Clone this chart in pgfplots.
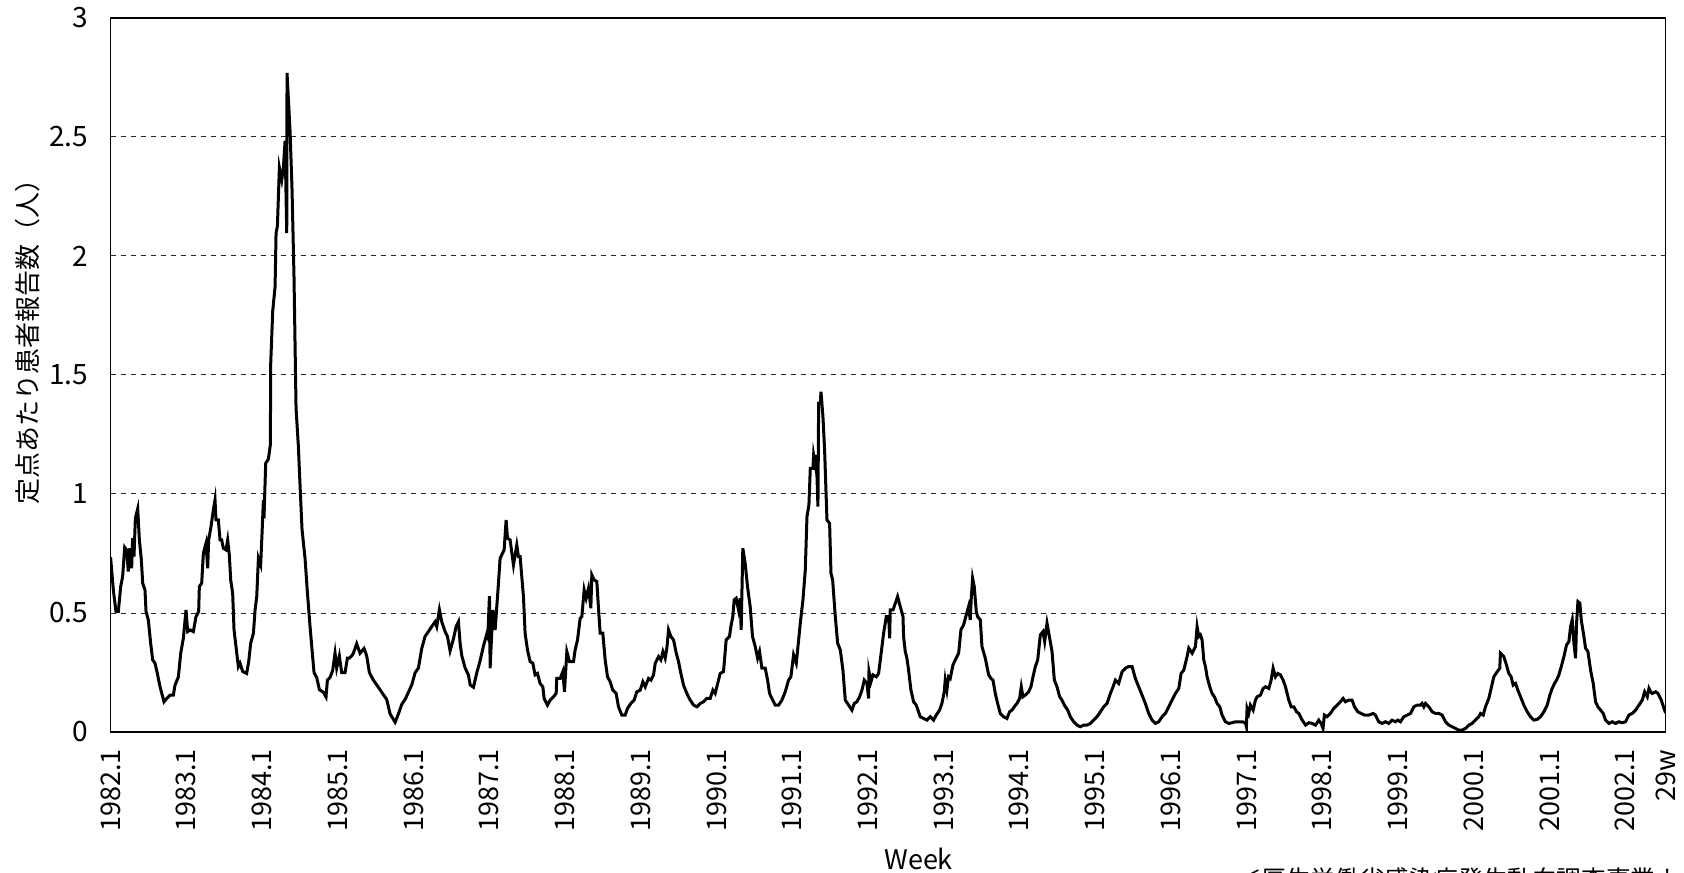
\documentclass[border=0pt]{standalone}
\usepackage{fontspec}
\setmainfont{Noto Sans CJK JP}
\usepackage{pgfplots}
\pgfplotsset{compat=1.18}

\begin{document}
\begin{tikzpicture}
\begin{axis}[
  scale only axis, width=777.5bp, height=357bp,
  xmin=1982, xmax=2002.535, ymin=0, ymax=3,
  axis line style={black, line width=0.6bp},
  major tick length=0pt,
  /pgf/number format/assume math mode=true,
  xtick={1982,1983,1984,1985,1986,1987,1988,1989,1990,1991,1992,1993,1994,1995,1996,1997,1998,1999,2000,2001,2002,2002.535},
  xticklabels={1982.1,1983.1,1984.1,1985.1,1986.1,1987.1,1988.1,1989.1,1990.1,1991.1,1992.1,1993.1,1994.1,1995.1,1996.1,1997.1,1998.1,1999.1,2000.1,2001.1,2002.1,29w},
  xticklabel style={rotate=90, anchor=east, inner xsep=8.5bp, inner ysep=0pt, font=\fontsize{13.5bp}{14bp}\selectfont},
  ytick={0,0.5,1,1.5,2,2.5,3},
  yticklabels={0,0.5,1,1.5,2,2.5,3},
  yticklabel style={anchor=east, inner xsep=0pt, xshift=-11bp, font=\fontsize{14bp}{15bp}\selectfont},
  ymajorgrids, grid style={black!85, line width=0.5bp, dash pattern=on 2.5bp off 2.5bp},
  xlabel={Week},
  xlabel style={at={(axis description cs:0.5196,-0.178)}, anchor=center, font=\fontsize{13.5bp}{14bp}\selectfont},
  ylabel={定点あたり患者報告数（人）},
  ylabel style={at={(axis description cs:-0.0531,0.555)}, anchor=center, font=\fontsize{13bp}{14bp}\selectfont},
]
\addplot[black, line width=1.5bp, line join=miter] coordinates {
(1982.000,0.734) (1982.036,0.597) (1982.071,0.506) (1982.102,0.506) (1982.133,0.611) (1982.159,0.653)
(1982.186,0.776) (1982.212,0.765) (1982.234,0.674) (1982.256,0.772) (1982.278,0.688) (1982.291,0.814)
(1982.309,0.737) (1982.327,0.898) (1982.358,0.938) (1982.380,0.807) (1982.406,0.723) (1982.424,0.625)
(1982.454,0.597) (1982.468,0.506) (1982.498,0.471) (1982.529,0.373) (1982.556,0.303) (1982.587,0.289)
(1982.617,0.246) (1982.653,0.190) (1982.705,0.127) (1982.741,0.141) (1982.785,0.155) (1982.829,0.155)
(1982.851,0.197) (1982.895,0.232) (1982.926,0.331) (1982.961,0.394) (1982.996,0.513) (1983.018,0.422)
(1983.049,0.429) (1983.093,0.422) (1983.128,0.485) (1983.163,0.506) (1983.172,0.611) (1983.203,0.625)
(1983.225,0.751) (1983.260,0.793) (1983.282,0.688) (1983.295,0.807) (1983.326,0.863) (1983.357,0.933)
(1983.379,0.975) (1983.392,0.891) (1983.423,0.891) (1983.445,0.807) (1983.467,0.807) (1983.489,0.772)
(1983.524,0.765) (1983.546,0.807) (1983.568,0.744) (1983.586,0.639) (1983.612,0.583) (1983.630,0.429)
(1983.656,0.359) (1983.687,0.275) (1983.709,0.289) (1983.745,0.254) (1983.797,0.246) (1983.824,0.296)
(1983.850,0.373) (1983.886,0.415) (1983.908,0.513) (1983.930,0.569) (1983.952,0.730) (1983.982,0.702)
(1984.000,0.835) (1984.018,0.975) (1984.026,0.898) (1984.048,1.129) (1984.084,1.147) (1984.110,1.208)
(1984.114,1.545) (1984.141,1.769) (1984.172,1.871) (1984.185,2.096) (1984.203,2.127) (1984.229,2.371)
(1984.260,2.320) (1984.282,2.371) (1984.304,2.484) (1984.326,2.096) (1984.330,2.769) (1984.370,2.524)
(1984.396,2.280) (1984.422,1.912) (1984.449,1.361) (1984.480,1.198) (1984.502,1.035) (1984.528,0.851)
(1984.568,0.729) (1984.599,0.586) (1984.634,0.443) (1984.656,0.361) (1984.687,0.249) (1984.722,0.229)
(1984.757,0.178) (1984.810,0.167) (1984.845,0.147) (1984.863,0.218) (1984.898,0.229) (1984.933,0.259)
(1984.964,0.331) (1984.986,0.269) (1985.021,0.320) (1985.052,0.249) (1985.096,0.249) (1985.127,0.310)
(1985.153,0.310) (1985.184,0.320) (1985.206,0.331) (1985.250,0.371) (1985.294,0.331) (1985.347,0.351)
(1985.382,0.320) (1985.418,0.249) (1985.470,0.218) (1985.514,0.198) (1985.558,0.178) (1985.602,0.157)
(1985.646,0.137) (1985.691,0.076) (1985.757,0.041) (1985.801,0.076) (1985.845,0.116) (1985.889,0.137)
(1985.933,0.167) (1985.977,0.198) (1986.021,0.249) (1986.065,0.269) (1986.109,0.351) (1986.153,0.402)
(1986.197,0.422) (1986.241,0.443) (1986.285,0.463) (1986.307,0.443) (1986.342,0.514) (1986.373,0.463)
(1986.417,0.422) (1986.448,0.402) (1986.483,0.341) (1986.528,0.392) (1986.563,0.443) (1986.594,0.463)
(1986.616,0.371) (1986.638,0.320) (1986.682,0.269) (1986.726,0.239) (1986.748,0.198) (1986.792,0.188)
(1986.836,0.249) (1986.880,0.300) (1986.924,0.361) (1986.968,0.412) (1986.981,0.400) (1987.003,0.571)
(1987.012,0.268) (1987.047,0.513) (1987.078,0.429) (1987.122,0.625) (1987.144,0.730) (1987.197,0.765)
(1987.223,0.891) (1987.241,0.814) (1987.276,0.807) (1987.320,0.702) (1987.364,0.786) (1987.386,0.737)
(1987.408,0.737) (1987.452,0.569) (1987.474,0.415) (1987.505,0.345) (1987.540,0.296) (1987.576,0.289)
(1987.606,0.240) (1987.637,0.246) (1987.672,0.204) (1987.708,0.190) (1987.725,0.141) (1987.769,0.113)
(1987.805,0.134) (1987.848,0.148) (1987.884,0.162) (1987.892,0.225) (1987.937,0.225) (1987.972,0.254)
(1987.994,0.169) (1988.025,0.338) (1988.060,0.296) (1988.113,0.296) (1988.135,0.345) (1988.166,0.387)
(1988.201,0.478) (1988.223,0.485) (1988.254,0.597) (1988.280,0.562) (1988.311,0.604) (1988.342,0.520)
(1988.355,0.660) (1988.386,0.639) (1988.421,0.632) (1988.443,0.520) (1988.465,0.415) (1988.500,0.415)
(1988.531,0.303) (1988.562,0.232) (1988.597,0.211) (1988.632,0.176) (1988.676,0.162) (1988.707,0.106)
(1988.751,0.071) (1988.795,0.071) (1988.826,0.099) (1988.870,0.120) (1988.914,0.134) (1988.949,0.169)
(1988.994,0.176) (1989.029,0.211) (1989.060,0.190) (1989.104,0.225) (1989.135,0.218) (1989.170,0.240)
(1989.192,0.289) (1989.236,0.317) (1989.267,0.303) (1989.294,0.338) (1989.324,0.310) (1989.346,0.352)
(1989.368,0.429) (1989.399,0.401) (1989.434,0.387) (1989.470,0.331) (1989.500,0.296) (1989.531,0.246)
(1989.566,0.197) (1989.610,0.162) (1989.654,0.134) (1989.699,0.113) (1989.743,0.106) (1989.787,0.120)
(1989.830,0.127) (1989.874,0.141) (1989.918,0.141) (1989.954,0.176) (1989.984,0.162) (1990.006,0.190)
(1990.028,0.218) (1990.050,0.246) (1990.094,0.254) (1990.129,0.387) (1990.173,0.401) (1990.191,0.443)
(1990.217,0.485) (1990.235,0.555) (1990.261,0.562) (1990.292,0.513) (1990.314,0.562) (1990.327,0.429)
(1990.349,0.772) (1990.380,0.709) (1990.411,0.611) (1990.446,0.527) (1990.477,0.401) (1990.513,0.359)
(1990.544,0.310) (1990.570,0.338) (1990.601,0.268) (1990.645,0.268) (1990.676,0.218) (1990.702,0.162)
(1990.733,0.141) (1990.777,0.113) (1990.821,0.113) (1990.865,0.134) (1990.909,0.169) (1990.953,0.218)
(1990.984,0.232) (1991.019,0.324) (1991.055,0.289) (1991.086,0.387) (1991.108,0.457) (1991.143,0.555)
(1991.174,0.681) (1991.196,0.905) (1991.222,0.954) (1991.240,1.108) (1991.275,1.108) (1991.284,1.164)
(1991.306,1.122) (1991.319,1.164) (1991.341,0.947) (1991.350,1.381) (1991.372,1.381) (1991.381,1.430)
(1991.407,1.325) (1991.429,1.185) (1991.460,0.891) (1991.495,0.877) (1991.513,0.667) (1991.535,0.639)
(1991.570,0.485) (1991.601,0.373) (1991.636,0.345) (1991.671,0.260) (1991.702,0.134) (1991.746,0.113)
(1991.790,0.092) (1991.821,0.120) (1991.856,0.127) (1991.891,0.148) (1991.922,0.176) (1991.953,0.218)
(1991.988,0.204) (1992.010,0.141) (1992.015,0.254) (1992.041,0.211) (1992.068,0.240) (1992.112,0.232)
(1992.142,0.246) (1992.173,0.324) (1992.208,0.415) (1992.244,0.485) (1992.275,0.485) (1992.288,0.394)
(1992.296,0.513) (1992.332,0.513) (1992.363,0.541) (1992.393,0.569) (1992.428,0.527) (1992.464,0.485)
(1992.472,0.401) (1992.494,0.338) (1992.516,0.310) (1992.538,0.260) (1992.569,0.176) (1992.604,0.127)
(1992.639,0.113) (1992.670,0.085) (1992.692,0.064) (1992.736,0.057) (1992.780,0.050) (1992.824,0.064)
(1992.868,0.050) (1992.903,0.071) (1992.947,0.092) (1992.978,0.120) (1993.009,0.169) (1993.022,0.218)
(1993.044,0.176) (1993.066,0.232) (1993.088,0.225) (1993.124,0.282) (1993.155,0.303) (1993.199,0.331)
(1993.229,0.429) (1993.264,0.450) (1993.300,0.492) (1993.330,0.527) (1993.352,0.471) (1993.366,0.562)
(1993.383,0.646) (1993.405,0.611) (1993.432,0.506) (1993.449,0.485) (1993.485,0.471) (1993.507,0.359)
(1993.551,0.310) (1993.595,0.240) (1993.626,0.225) (1993.652,0.218) (1993.683,0.162) (1993.714,0.120)
(1993.749,0.078) (1993.793,0.064) (1993.837,0.057) (1993.872,0.085) (1993.903,0.092) (1993.934,0.106)
(1993.969,0.120) (1994.004,0.141) (1994.026,0.190) (1994.048,0.148) (1994.079,0.155) (1994.123,0.169)
(1994.154,0.190) (1994.181,0.232) (1994.212,0.275) (1994.243,0.303) (1994.278,0.408) (1994.313,0.422)
(1994.335,0.380) (1994.366,0.457) (1994.401,0.394) (1994.432,0.338) (1994.463,0.218) (1994.498,0.190)
(1994.533,0.148) (1994.564,0.134) (1994.595,0.113) (1994.639,0.092) (1994.674,0.064) (1994.718,0.043)
(1994.762,0.029) (1994.806,0.022) (1994.850,0.029) (1994.894,0.029) (1994.938,0.036) (1994.982,0.050)
(1995.026,0.064) (1995.071,0.085) (1995.115,0.106) (1995.159,0.120) (1995.203,0.162) (1995.238,0.190)
(1995.269,0.218) (1995.313,0.204) (1995.357,0.253) (1995.401,0.268) (1995.445,0.275) (1995.489,0.275)
(1995.533,0.225) (1995.577,0.190) (1995.621,0.155) (1995.665,0.120) (1995.709,0.078) (1995.753,0.050)
(1995.797,0.036) (1995.841,0.043) (1995.885,0.064) (1995.929,0.078) (1995.973,0.106) (1996.018,0.134)
(1996.062,0.162) (1996.106,0.183) (1996.137,0.246) (1996.172,0.260) (1996.216,0.317) (1996.238,0.352)
(1996.282,0.331) (1996.326,0.359) (1996.348,0.443) (1996.370,0.401) (1996.392,0.408) (1996.414,0.387)
(1996.436,0.303) (1996.458,0.275) (1996.480,0.232) (1996.515,0.190) (1996.546,0.162) (1996.577,0.148)
(1996.612,0.120) (1996.647,0.106) (1996.678,0.071) (1996.722,0.043) (1996.766,0.036) (1996.810,0.039)
(1996.854,0.043) (1996.898,0.043) (1996.942,0.043) (1996.986,0.039) (1996.999,0.022) (1997.008,0.099)
(1997.030,0.078) (1997.052,0.113) (1997.088,0.092) (1997.118,0.134) (1997.141,0.148) (1997.185,0.155)
(1997.220,0.183) (1997.251,0.190) (1997.295,0.183) (1997.326,0.218) (1997.352,0.268) (1997.383,0.232)
(1997.414,0.246) (1997.449,0.240) (1997.484,0.218) (1997.515,0.190) (1997.559,0.134) (1997.590,0.106)
(1997.626,0.106) (1997.661,0.085) (1997.692,0.078) (1997.736,0.050) (1997.780,0.029) (1997.824,0.039)
(1997.868,0.036) (1997.912,0.029) (1997.954,0.050) (1997.985,0.036) (1998.011,0.015) (1998.029,0.071)
(1998.064,0.064) (1998.108,0.078) (1998.152,0.099) (1998.196,0.113) (1998.240,0.127) (1998.276,0.141)
(1998.307,0.127) (1998.351,0.134) (1998.395,0.134) (1998.426,0.106) (1998.470,0.085) (1998.514,0.078)
(1998.558,0.071) (1998.615,0.071) (1998.672,0.078) (1998.703,0.071) (1998.747,0.043) (1998.791,0.036)
(1998.835,0.043) (1998.879,0.036) (1998.923,0.050) (1998.967,0.043) (1998.999,0.050) (1999.034,0.043)
(1999.078,0.064) (1999.122,0.071) (1999.166,0.078) (1999.210,0.106) (1999.254,0.113) (1999.298,0.113)
(1999.320,0.120) (1999.342,0.106) (1999.364,0.120) (1999.408,0.106) (1999.452,0.085) (1999.496,0.078)
(1999.540,0.078) (1999.584,0.071) (1999.628,0.043) (1999.672,0.029) (1999.716,0.022) (1999.760,0.015)
(1999.804,0.008) (1999.848,0.008) (1999.892,0.015) (1999.936,0.029) (1999.980,0.036) (2000.024,0.050)
(2000.068,0.064) (2000.090,0.078) (2000.126,0.071) (2000.156,0.106) (2000.200,0.141) (2000.231,0.183)
(2000.266,0.232) (2000.310,0.253) (2000.345,0.268) (2000.354,0.331) (2000.398,0.317) (2000.433,0.282)
(2000.464,0.246) (2000.495,0.232) (2000.522,0.197) (2000.553,0.204) (2000.584,0.176) (2000.619,0.148)
(2000.663,0.113) (2000.707,0.085) (2000.751,0.064) (2000.795,0.050) (2000.839,0.053) (2000.883,0.064)
(2000.927,0.085) (2000.971,0.113) (2001.006,0.155) (2001.037,0.183) (2001.068,0.204) (2001.095,0.218)
(2001.126,0.240) (2001.157,0.275) (2001.192,0.317) (2001.227,0.366) (2001.258,0.380) (2001.280,0.443)
(2001.302,0.471) (2001.324,0.373) (2001.346,0.310) (2001.359,0.457) (2001.377,0.548) (2001.403,0.541)
(2001.421,0.471) (2001.456,0.401) (2001.478,0.352) (2001.509,0.338) (2001.544,0.260) (2001.579,0.204)
(2001.610,0.127) (2001.641,0.106) (2001.676,0.092) (2001.711,0.078) (2001.742,0.050) (2001.786,0.036)
(2001.830,0.043) (2001.874,0.036) (2001.918,0.043) (2001.962,0.039) (2002.006,0.043) (2002.050,0.071)
(2002.094,0.078) (2002.138,0.092) (2002.183,0.113) (2002.227,0.134) (2002.258,0.169) (2002.293,0.148)
(2002.315,0.183) (2002.337,0.169) (2002.359,0.162) (2002.403,0.169) (2002.434,0.162) (2002.478,0.134)
(2002.513,0.099) (2002.535,0.080)
};
\end{axis}
\node[anchor=north west, inner sep=0pt, font=\fontsize{12.3bp}{13bp}\selectfont] at (563bp,-67.5bp) {＜厚生労働省感染症発生動向調査事業より＞};
\pgfresetboundingbox
\useasboundingbox (-55.3bp,-70.5bp) rectangle (786.7bp,366bp);
\end{tikzpicture}
\end{document}
